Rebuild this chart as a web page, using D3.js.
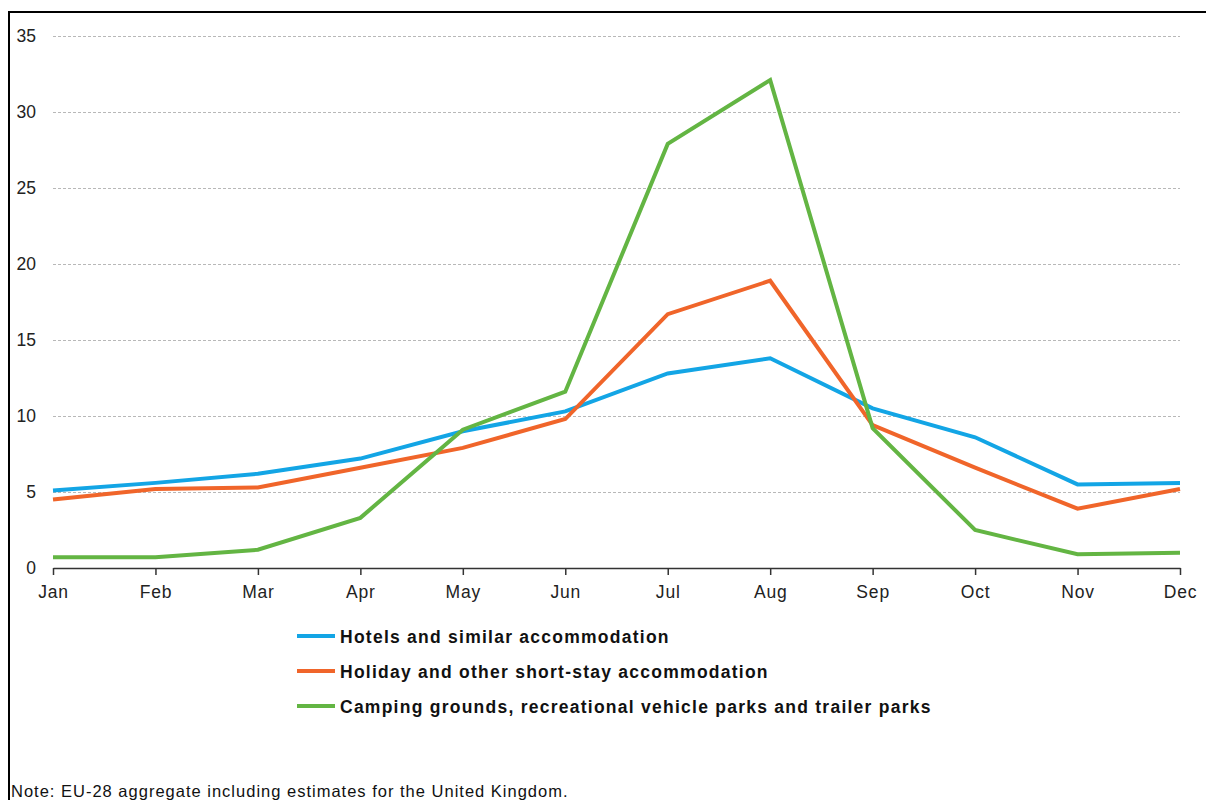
<!DOCTYPE html>
<html>
<head>
<meta charset="utf-8">
<script src="https://cdn.jsdelivr.net/npm/d3@7"></script>
<style>
  body { margin: 0; background: #fff; }
  svg { display: block; }
</style>
</head>
<body>
<svg width="1206" height="800"></svg>
<script>
// months on the x axis
const months = ["Jan", "Feb", "Mar", "Apr", "May", "Jun", "Jul", "Aug", "Sep", "Oct", "Nov", "Dec"];
const yTicks = [0, 5, 10, 15, 20, 25, 30, 35];

// series values
const hotels   = [5.1, 5.6, 6.2, 7.2, 9.0, 10.3, 12.8, 13.8, 10.5, 8.6, 5.5, 5.6];
const holiday  = [4.5, 5.2, 5.3, 6.6, 7.9, 9.8, 16.7, 18.9, 9.4, 6.6, 3.9, 5.2];
const camping  = [0.7, 0.7, 1.2, 3.3, 9.1, 11.6, 27.9, 32.1, 9.2, 2.5, 0.9, 1.0];

const seriesNames = [
    "Hotels and similar accommodation",
    "Holiday and other short-stay accommodation",
    "Camping grounds, recreational vehicle parks and trailer parks"
];
const seriesColors = ["#13a5e5", "#f0652a", "#63b543"];
const series = [hotels, holiday, camping];

const svg = d3.select("svg");
const font = "'Liberation Sans', Arial, sans-serif";

// frame round the figure
svg.append("line")
    .attr("x1", 9).attr("y1", 12).attr("x2", 9).attr("y2", 800)
    .style("stroke", "#000").style("stroke-width", 2);
svg.append("line")
    .attr("x1", 8).attr("y1", 12).attr("x2", 1206).attr("y2", 12)
    .style("stroke", "#000").style("stroke-width", 2);

const x = d3.scalePoint().domain(months).range([53, 1180]);
const y = d3.scaleLinear().domain([0, 35]).range([568, 36]);

// dashed gridlines
svg.append("g")
    .selectAll("line")
    .data(yTicks.filter(d => d > 0))
    .join("line")
    .attr("x1", 53).attr("x2", 1180)
    .attr("y1", d => y(d) + 0.5).attr("y2", d => y(d) + 0.5)
    .style("stroke", "#b8b8b8")
    .style("stroke-width", 1)
    .style("stroke-dasharray", "3,2");

// y axis labels
svg.append("g")
    .attr("transform", "translate(36,0)")
    .call(d3.axisLeft(y).tickValues(yTicks).tickSize(0).tickPadding(0))
    .call(g => g.select(".domain").remove())
    .call(g => g.selectAll("text")
        .attr("fill", "#222")
        .style("font-family", font)
        .style("font-size", "17.5px"));

// x axis
const xAxis = svg.append("g")
    .attr("transform", "translate(0,568)")
    .call(d3.axisBottom(x).tickSize(7).tickPadding(11).tickSizeOuter(0));
xAxis.select(".domain").style("stroke", "#333").style("stroke-width", 1.5);
xAxis.selectAll(".tick line").style("stroke", "#333").style("stroke-width", 1.5);
xAxis.selectAll("text")
    .attr("fill", "#222")
    .style("font-family", font)
    .style("font-size", "17.5px")
    .style("letter-spacing", "0.8px");

// lines
const line = d3.line()
    .x((d, i) => x(months[i]))
    .y(d => y(d));

series.forEach((s, i) => {
    svg.append("path")
        .datum(s)
        .attr("d", line)
        .style("fill", "none")
        .style("stroke", seriesColors[i])
        .style("stroke-width", 4)
        .style("stroke-linejoin", "miter");
});

// legend
const legend = svg.append("g").attr("transform", "translate(297,636)");
seriesNames.forEach((name, i) => {
    const row = legend.append("g").attr("transform", `translate(0,${i * 35})`);
    row.append("line")
        .attr("x1", 0).attr("x2", 38).attr("y1", 0).attr("y2", 0)
        .style("stroke", seriesColors[i])
        .style("stroke-width", 4);
    row.append("text")
        .attr("x", 43).attr("y", 6.5)
        .attr("fill", "#111")
        .style("font-family", font)
        .style("font-weight", "bold")
        .style("font-size", "17.5px")
        .style("letter-spacing", "1.25px")
        .text(name);
});

// note
svg.append("text")
    .attr("x", 11).attr("y", 797)
    .attr("fill", "#111")
    .style("font-family", font)
    .style("font-size", "16.5px")
    .style("letter-spacing", "1px")
    .text("Note: EU-28 aggregate including estimates for the United Kingdom.");
</script>
</body>
</html>
